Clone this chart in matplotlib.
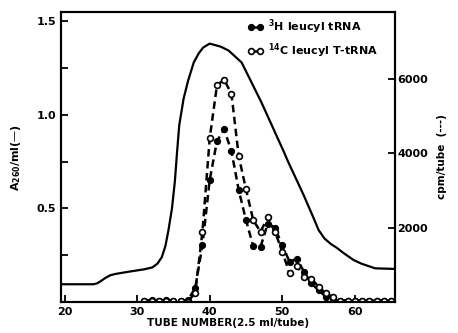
import numpy as np
import matplotlib
matplotlib.use("Agg")
import matplotlib.pyplot as plt

plt.rcParams['font.family'] = ['DejaVu Sans']
plt.rcParams['font.weight'] = 'bold'
plt.rcParams['mathtext.default'] = 'regular'

# --- A260 profile (solid line) ---
a260_tube = [19.5, 24.0, 24.5, 25.0, 25.6, 26.3, 27.0, 29.0, 31.0, 32.1, 32.8, 33.4, 33.9,
             34.3, 34.8, 35.2, 35.5, 35.8, 36.4, 37.0, 37.8, 38.5, 39.1, 40.0, 41.5, 42.6,
             44.4, 47.1, 50.2, 50.8, 52.9, 54.3, 55.0, 55.8, 56.7, 57.5, 58.4, 59.8, 60.9,
             62.8, 65.5]
a260_val = [0.095, 0.095, 0.100, 0.112, 0.128, 0.143, 0.150, 0.163, 0.175, 0.185, 0.205, 0.240, 0.300,
            0.380, 0.500, 0.645, 0.800, 0.945, 1.086, 1.180, 1.280, 1.330, 1.360, 1.381, 1.365, 1.344,
            1.280, 1.069, 0.804, 0.750, 0.575, 0.450, 0.385, 0.340, 0.310, 0.290, 0.263, 0.225, 0.205,
            0.180, 0.177]

# --- radioactivity (dashed lines) ---
tubes = list(range(31, 66))
h3_cpm = [40, 50, 40, 50, 40, 30, 60, 370, 1530, 3280, 4330, 4640, 4050, 3010, 2200, 1500,
          1480, 2110, 1980, 1530, 1080, 1170, 810, 500, 320, 140, 60, 40, 40, 40, 40, 40,
          40, 40, 40]
c14_cpm = [20, 30, 20, 30, 40, 20, 10, 250, 1890, 4400, 5830, 5980, 5590, 3920, 3030, 2200,
           1890, 2280, 1890, 1350, 770, 980, 680, 630, 410, 230, 140, 40, 40, 40, 40, 40,
           40, 40, 40]

fig = plt.figure(figsize=(4.58, 3.33), dpi=100)
ax = fig.add_axes([0.133, 0.093, 0.729, 0.871])
ax2 = ax.twinx()

ax.plot(a260_tube, a260_val, color='black', lw=1.6, solid_joinstyle='round')

ax2.plot(tubes, h3_cpm, color='black', lw=1.8, ls=(0, (3, 1.8)), marker='o', ms=4.2,
         mfc='black', mec='black', label='$^{3}$H leucyl tRNA')
ax2.plot(tubes, c14_cpm, color='black', lw=1.8, ls=(0, (3, 1.8)), marker='o', ms=4.2,
         mfc='white', mec='black', mew=1.2, label='$^{14}$C leucyl T-tRNA')

ax.set_xlim(19.5, 65.5)
ax.set_ylim(0, 1.55)
ax2.set_ylim(0, 7800)

ax.set_xticks([20, 30, 40, 50, 60])
ax.set_yticks([0.5, 1.0, 1.5])
ax.set_yticklabels(['0.5', '1.0', '1.5'])
ax.set_yticks([0.25, 0.75, 1.25], minor=True)
ax2.set_yticks([2000, 4000, 6000])

for a in (ax, ax2):
    a.tick_params(direction='in', length=5, width=1.3, labelsize=8)
    a.tick_params(which='minor', direction='in', length=5, width=1.3)
    for s in a.spines.values():
        s.set_linewidth(1.5)
ax2.tick_params(pad=2)

ax.set_xlabel('TUBE NUMBER(2.5 ml/tube)', fontsize=7.5, fontweight='bold', labelpad=1)
ax.set_ylabel('A$_{260}$/ml(—)', fontsize=8, fontweight='bold', labelpad=10)
ax2.set_ylabel('cpm/tube  (---)', fontsize=7.5, fontweight='bold', labelpad=6)

leg = ax2.legend(loc='upper left', bbox_to_anchor=(0.53, 1.015), frameon=False, fontsize=8,
                 handlelength=1.4, handletextpad=0.4, numpoints=2, labelspacing=0.5)
for t in leg.get_texts():
    t.set_fontweight('bold')

fig.savefig('out.png', dpi=100)
